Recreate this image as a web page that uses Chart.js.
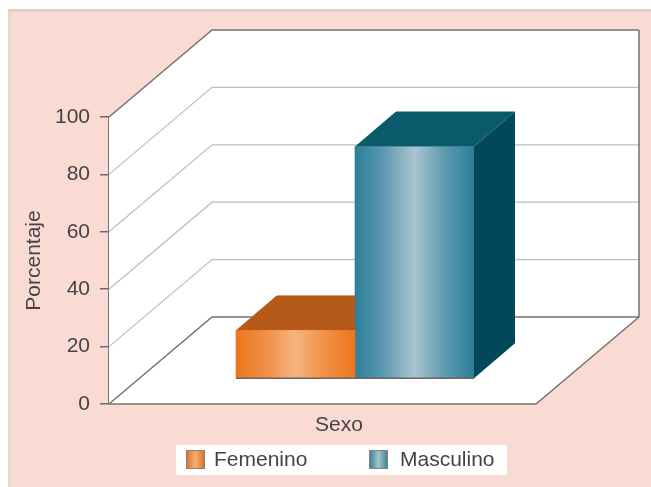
<!DOCTYPE html>
<html lang="es">
<head>
<meta charset="utf-8">
<title>Porcentaje por sexo</title>
<script src="https://cdn.jsdelivr.net/npm/chart.js@4/dist/chart.umd.min.js"></script>
<style>
  html, body { margin: 0; padding: 0; background: #fff; }
  #wrap { width: 651px; height: 487px; }
</style>
</head>
<body>
<div id="wrap"><canvas id="sexChart" width="651" height="487"></canvas></div>
<script>
const categories = ['Sexo'];
const seriesNames = ['Femenino', 'Masculino'];
const femenino = [17];
const masculino = [81];
const yTicks = [0, 20, 40, 60, 80, 100];

const textColor = '#45434a';
const fontFamily = '"Liberation Sans", Arial, sans-serif';

// colours per series: [edge, mid, centre] of the front face, then top and side
const palette = [
    { stops: ['#ec7620', '#f08f45', '#f7b480'], top: '#b55a18', side: '#a04c12', swatch: ['#d9702a', '#f6ad70'] },
    { stops: ['#2a7f99', '#5f9ab0', '#a9c6d0'], top: '#0b5a6c', side: '#03475b', swatch: ['#2f7f99', '#a3c3ce'] }
];

function faceGradient(ctx, left, right, stops) {
    const g = ctx.createLinearGradient(left, 0, right, 0);
    g.addColorStop(0, stops[0]);
    g.addColorStop(0.25, stops[1]);
    g.addColorStop(0.5, stops[2]);
    g.addColorStop(0.75, stops[1]);
    g.addColorStop(1, stops[0]);
    return g;
}

function poly(ctx, pts) {
    ctx.beginPath();
    pts.forEach((p, i) => i ? ctx.lineTo(p[0], p[1]) : ctx.moveTo(p[0], p[1]));
    ctx.closePath();
}

function segment(ctx, pts, color, width) {
    ctx.beginPath();
    pts.forEach((p, i) => i ? ctx.lineTo(p[0], p[1]) : ctx.moveTo(p[0], p[1]));
    ctx.strokeStyle = color;
    ctx.lineWidth = width;
    ctx.stroke();
}

// box depth: walls, bar position inside the box, and the bar's own depth
const wallDx = 103, wallDy = 87, frontWidth = 427;
const barDx = 16, barDy = -25;
const barDepthX = 41, barDepthY = 35;
const barWidth = 119;

const panelPlugin = {
    id: 'panel',
    beforeDraw(chart) {
        const ctx = chart.ctx;
        ctx.save();
        ctx.fillStyle = '#fadbd3';
        ctx.fillRect(8, 9, 643, 478);
        ctx.fillStyle = '#d9d0c9';
        ctx.fillRect(8, 9, 643, 3);
        ctx.fillStyle = '#e6d8cd';
        ctx.fillRect(8, 12, 3, 475);
        ctx.restore();
    }
};

const boxPlugin = {
    id: 'box',
    beforeDatasetsDraw(chart) {
        const ctx = chart.ctx;
        const y = chart.scales.y;
        const left = chart.chartArea.left;
        const right = left + frontWidth;
        const top = y.getPixelForValue(100);
        const base = y.getPixelForValue(0);
        ctx.save();
        ctx.fillStyle = '#fff';
        poly(ctx, [[left, top], [left + wallDx, top - wallDy], [right + wallDx, top - wallDy],
            [right + wallDx, base - wallDy], [right, base], [left, base]]);
        ctx.fill();
        yTicks.forEach(v => {
            const py = y.getPixelForValue(v);
            const edge = v === 100 || v === 0;
            segment(ctx, [[left, py], [left + wallDx, py - wallDy], [right + wallDx, py - wallDy]],
                edge ? '#77716f' : '#bfbdbd', edge ? 1.5 : 1.2);
        });
        segment(ctx, [[right + wallDx, top - wallDy], [right + wallDx, base - wallDy], [right, base], [left, base]], '#77716f', 1.5);
        ctx.restore();
    },
    beforeDatasetDraw(chart) {
        chart.ctx.save();
        chart.ctx.translate(barDx, barDy);
    },
    afterDatasetDraw(chart, args) {
        const ctx = chart.ctx;
        const bar = args.meta.data[0];
        const p = palette[args.index];
        const l = bar.x - bar.width / 2, r = bar.x + bar.width / 2;
        // the left bar sits behind its neighbour, so only the part left of it shows
        const hidden = args.index === 0;
        ctx.save();
        if (hidden) {
            ctx.beginPath();
            ctx.rect(l, bar.y - barDepthY, r - l, barDepthY);
            ctx.clip();
        }
        ctx.fillStyle = p.top;
        poly(ctx, [[l, bar.y], [l + barDepthX, bar.y - barDepthY], [r + barDepthX, bar.y - barDepthY], [r, bar.y]]);
        ctx.fill();
        ctx.restore();
        if (!hidden) {
            ctx.fillStyle = p.side;
            poly(ctx, [[r, bar.y], [r + barDepthX, bar.y - barDepthY], [r + barDepthX, bar.base - barDepthY], [r, bar.base]]);
            ctx.fill();
        }
        segment(ctx, [[l, bar.base], [r, bar.base]], '#6e6460', 1.5);
        ctx.restore();
    }
};

// legend box under the axis title
const keyPlugin = {
    id: 'key',
    afterDraw(chart) {
        const ctx = chart.ctx;
        const swatchX = [186, 369];
        const textX = [214, 400];
        ctx.save();
        ctx.fillStyle = '#fff';
        ctx.fillRect(176, 445, 331, 30);
        ctx.font = '21px ' + fontFamily;
        ctx.textBaseline = 'middle';
        chart.data.datasets.forEach((ds, i) => {
            const x = swatchX[i];
            const g = ctx.createLinearGradient(x, 0, x + 19, 0);
            g.addColorStop(0, palette[i].swatch[0]);
            g.addColorStop(0.5, palette[i].swatch[1]);
            g.addColorStop(1, palette[i].swatch[0]);
            ctx.fillStyle = g;
            ctx.fillRect(x, 450, 19, 19);
            ctx.strokeStyle = '#8a7f7a';
            ctx.lineWidth = 1;
            ctx.strokeRect(x + 0.5, 450.5, 18, 18);
            ctx.fillStyle = textColor;
            ctx.fillText(ds.label, textX[i], 460);
        });
        ctx.restore();
    }
};

function barFill(context) {
    const i = context.datasetIndex;
    const cx = context.chart.scales.x ? context.chart.scales.x.getPixelForValue(0) : NaN;
    if (!Number.isFinite(cx)) return palette[i].stops[0];  // scales not laid out yet
    const left = i === 0 ? cx - barWidth : cx;
    return faceGradient(context.chart.ctx, left, left + barWidth, palette[i].stops);
}

new Chart(document.getElementById('sexChart'), {
    type: 'bar',
    data: {
        labels: categories,
        datasets: [
            { label: seriesNames[0], data: femenino, backgroundColor: barFill, clip: false },
            { label: seriesNames[1], data: masculino, backgroundColor: barFill, clip: false }
        ]
    },
    options: {
        responsive: false,
        animation: false,
        barThickness: barWidth,
        layout: { padding: { left: 22, top: 117, right: 82, bottom: 49 } },
        plugins: {
            legend: { display: false },
            tooltip: { enabled: false }
        },
        scales: {
            x: {
                afterFit: scale => { scale.height = 34; },
                grid: { display: false },
                border: { display: false },
                ticks: { display: false },
                title: {
                    display: true,
                    text: categories[0],
                    color: textColor,
                    font: { size: 21, family: fontFamily },
                    padding: { top: 0, bottom: 0 }
                }
            },
            y: {
                min: 0,
                max: 100,
                afterBuildTicks: scale => { scale.ticks = yTicks.map(v => ({ value: v })); },
                afterFit: scale => { scale.width = 87; },
                grid: { drawOnChartArea: false, tickLength: 9, color: '#6f6a68', lineWidth: 1.5 },
                border: { color: '#77716f', width: 1.5 },
                ticks: {
                    color: textColor,
                    padding: 10,
                    font: { size: 21, family: fontFamily }
                },
                title: {
                    display: true,
                    text: 'Porcentaje',
                    color: textColor,
                    font: { size: 21, family: fontFamily },
                    padding: { top: 0, bottom: 0 }
                }
            }
        }
    },
    plugins: [panelPlugin, boxPlugin, keyPlugin]
});
</script>
</body>
</html>
